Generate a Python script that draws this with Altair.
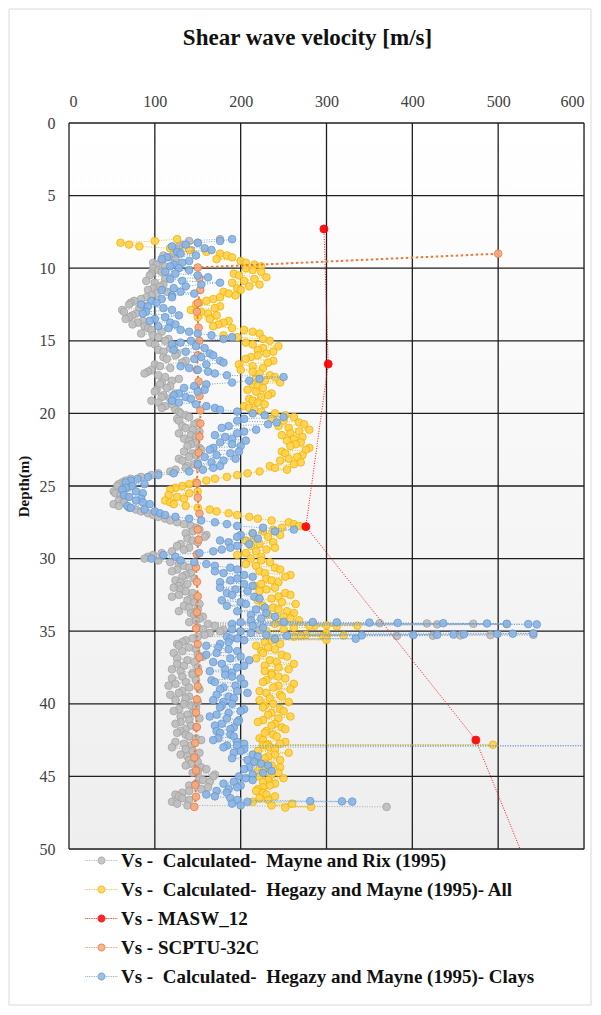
import altair as alt
import pandas as pd

# ---------------- data ----------------
SERIES = [
    "Vs -\u00a0 Calculated-\u00a0 Mayne and Rix (1995)",
    "Vs -\u00a0 Calculated-\u00a0 Hegazy and Mayne (1995)- All",
    "Vs - MASW_12",
    "Vs - SCPTU-32C",
    "Vs -\u00a0 Calculated-\u00a0 Hegazy and Mayne (1995)- Clays",
]
FILLS = ["#BEBEBE", "#FFD24D", "#FF0000", "#F5A982", "#8DB5E3"]
STROKES = ["#A3A3A3", "#F0B400", "#FF0000", "#E57B3C", "#6598D0"]

X_TICKS = [0, 100, 200, 300, 400, 500, 600]
Y_TICKS = [0, 5, 10, 15, 20, 25, 30, 35, 40, 45, 50]

# CPT depth grid (m)
cpt_depth = [
    8.0, 8.25, 8.5, 8.75, 9.0, 9.25, 9.5, 9.75,
    10.0, 10.25, 10.5, 10.75, 11.0, 11.25, 11.5, 11.75,
    12.0, 12.25, 12.5, 12.75, 13.0, 13.25, 13.5, 13.75,
    14.0, 14.25, 14.5, 14.75, 15.0, 15.25, 15.5, 15.75,
    16.0, 16.25, 16.5, 16.75, 17.0, 17.25, 17.5, 17.75,
    18.0, 18.25, 18.5, 18.75, 19.0, 19.25, 19.5, 19.75,
    20.0, 20.25, 20.5, 20.75, 21.0, 21.25, 21.5, 21.75,
    22.0, 22.25, 22.5, 22.75, 23.0, 23.25, 23.5, 23.75,
    24.0, 24.25, 24.5, 24.75, 25.0, 25.25, 25.5, 25.75,
    26.0, 26.25, 26.5, 26.75, 27.0, 27.25, 27.5, 27.75,
    28.0, 28.25, 28.5, 28.75, 29.0, 29.25, 29.5, 29.75,
    30.0, 30.25, 30.5, 30.75, 31.0, 31.25, 31.5, 31.75,
    32.0, 32.25, 32.5, 32.75, 33.0, 33.25, 33.5, 33.75,
    34.0, 34.25, 34.5, 34.75, 35.0, 35.25, 35.5, 35.75,
    36.0, 36.25, 36.5, 36.75, 37.0, 37.25, 37.5, 37.75,
    38.0, 38.25, 38.5, 38.75, 39.0, 39.25, 39.5, 39.75,
    40.0, 40.25, 40.5, 40.75, 41.0, 41.25, 41.5, 41.75,
    42.0, 42.25, 42.5, 42.75, 43.0, 43.25, 43.5, 43.75,
    44.0, 44.25, 44.5, 44.75, 45.0, 45.25, 45.5, 45.75,
    46.0, 46.25, 46.5, 46.75, 47.0,
]
cpt_depth_mid = [
    8.125, 8.375, 8.625, 8.875, 9.125, 9.375, 9.625, 9.875,
    10.125, 10.375, 10.625, 10.875, 11.125, 11.375, 11.625, 11.875,
    12.125, 12.375, 12.625, 12.875, 13.125, 13.375, 13.625, 13.875,
    14.125, 14.375, 14.625, 14.875, 15.125, 15.375, 15.625, 15.875,
    16.125, 16.375, 16.625, 16.875, 17.125, 17.375, 17.625, 17.875,
    18.125, 18.375, 18.625, 18.875, 19.125, 19.375, 19.625, 19.875,
    20.125, 20.375, 20.625, 20.875, 21.125, 21.375, 21.625, 21.875,
    22.125, 22.375, 22.625, 22.875, 23.125, 23.375, 23.625, 23.875,
    24.125, 24.375, 24.625, 24.875, 25.125, 25.375, 25.625, 25.875,
    26.125, 26.375, 26.625, 26.875, 27.125, 27.375, 27.625, 27.875,
    28.125, 28.375, 28.625, 28.875, 29.125, 29.375, 29.625, 29.875,
    30.125, 30.375, 30.625, 30.875, 31.125, 31.375, 31.625, 31.875,
    32.125, 32.375, 32.625, 32.875, 33.125, 33.375, 33.625, 33.875,
    34.125, 34.375, 34.625, 34.875, 35.125, 35.375, 35.625, 35.875,
    36.125, 36.375, 36.625, 36.875, 37.125, 37.375, 37.625, 37.875,
    38.125, 38.375, 38.625, 38.875, 39.125, 39.375, 39.625, 39.875,
    40.125, 40.375, 40.625, 40.875, 41.125, 41.375, 41.625, 41.875,
    42.125, 42.375, 42.625, 42.875, 43.125, 43.375, 43.625, 43.875,
    44.125, 44.375, 44.625, 44.875, 45.125, 45.375, 45.625, 45.875,
    46.125, 46.375, 46.625, 46.875,
]

# Vs - Calculated - Mayne and Rix (1995)
mayne_rix_vs = [
    176, 150, 128, 142, 122, 116, 108, 102,
    98, 108, 94, 112, 100, 106, 92, 102,
    90, 76, 70, 82, 64, 74, 66, 80,
    88, 96, 84, 104, 112, 100, 118, 110,
    124, 114, 132, 106, 96, 88, 112, 120,
    106, 114, 100, 110, 118, 104, 112, 124,
    130, 140, 128, 146, 136, 152, 142, 134,
    148, 138, 154, 144, 140, 132, 146, 136,
    118, 96, 72, 62, 56, 62, 54, 66,
    58, 52, 70, 84, 98, 112, 126, 142,
    152, 136, 158, 144, 130, 140, 120, 98,
    88, 118, 134, 126, 142, 132, 124, 138,
    122, 136, 128, 142, 146, 134, 150, 142,
    156, 148, 162, 150, 176, 158, 144, 132,
    128, 148, 122, 156, 138, 126, 150, 130,
    144, 120, 136, 116, 152, 128, 140, 124,
    134, 148, 122, 138, 152, 130, 142, 136,
    126, 140, 154, 134, 120, 144, 130, 148,
    150, 136, 160, 144, 168, 156, 148, 162,
    140, 124, 132, 120, 138,
]
mayne_rix_mid_vs = [
    140, 132, 118, 128, 110, 124, 98, 112,
    104, 96, 116, 90, 110, 98, 114, 96,
    84, 72, 88, 62, 78, 70, 86, 74,
    92, 108, 98, 116, 94, 122, 104, 126,
    110, 136, 100, 118, 92, 104, 128, 108,
    118, 102, 124, 108, 96, 120, 108, 128,
    136, 126, 150, 132, 144, 128, 148, 140,
    142, 152, 134, 148, 128, 150, 138, 124,
    104, 84, 66, 58, 68, 52, 60, 62,
    64, 58, 78, 92, 104, 118, 134, 148,
    144, 160, 138, 150, 126, 134, 108, 92,
    104, 128, 140, 120, 136, 146, 130, 128,
    130, 144, 120, 138, 152, 140, 128, 146,
    152, 140, 170, 156, 164, 150, 136, 126,
    140, 132, 150, 126, 146, 134, 120, 144,
    132, 148, 124, 140, 132, 118, 136, 150,
    142, 128, 144, 130, 140, 124, 148, 130,
    136, 148, 124, 142, 136, 152, 138, 140,
    142, 154, 150, 170, 152, 164, 140, 154,
    132, 128, 140, 126,
]
mayne_rix_extra_depth = [34.45, 34.47, 34.49, 34.51, 34.53, 34.9, 34.92,
                         35.25, 35.27, 35.29, 35.31, 35.33, 35.35, 47.1]
mayne_rix_extra_vs = [362, 417, 471, 510, 429, 180, 222,
                      541, 491, 456, 424, 382, 300, 370]

# Vs - Calculated - Hegazy and Mayne (1995) - All
hegazy_all_vs = [
    126, 60, 82, 140, 176, 190, 200, 216,
    206, 224, 198, 216, 190, 210, 200, 186,
    176, 160, 148, 170, 154, 172, 164, 180,
    168, 204, 222, 196, 234, 214, 226, 238,
    220, 206, 232, 214, 200, 222, 240, 228,
    214, 226, 218, 232, 210, 220, 204, 216,
    240, 262, 250, 274, 256, 268, 248, 262,
    270, 258, 276, 252, 266, 246, 262, 240,
    222, 196, 170, 148, 132, 118, 140, 126,
    112, 122, 150, 172, 196, 220, 256, 268,
    238, 214, 232, 206, 222, 240, 218, 196,
    212, 234, 218, 246, 228, 252, 236, 224,
    240, 222, 258, 236, 248, 226, 244, 262,
    250, 268, 240, 262, 230, 276, 240, 228,
    218, 240, 226, 254, 234, 262, 244, 228,
    236, 252, 226, 244, 258, 230, 248, 222,
    238, 226, 250, 232, 244, 220, 236, 252,
    228, 242, 226, 246, 234, 220, 240, 228,
    218, 236, 228, 244, 222, 232, 240, 226,
    218, 230, 222, 214, 236,
]
hegazy_all_mid_vs = [
    100, 70, 118, 160, 184, 172, 206, 224,
    214, 192, 230, 204, 222, 196, 180, 194,
    168, 152, 176, 142, 162, 150, 186, 174,
    190, 214, 180, 226, 206, 244, 220, 230,
    212, 238, 198, 226, 214, 234, 218, 246,
    220, 208, 236, 224, 214, 228, 210, 224,
    252, 236, 268, 244, 280, 258, 272, 254,
    264, 280, 248, 272, 256, 270, 234, 254,
    208, 184, 160, 140, 124, 150, 116, 134,
    118, 136, 164, 186, 210, 236, 262, 248,
    226, 246, 216, 238, 212, 230, 206, 224,
    224, 206, 240, 222, 258, 230, 244, 216,
    230, 252, 244, 220, 264, 238, 254, 232,
    258, 244, 286, 250, 300, 262, 236, 246,
    232, 224, 248, 218, 242, 228, 256, 236,
    244, 230, 262, 238, 222, 246, 234, 256,
    228, 246, 236, 258, 226, 240, 248, 230,
    238, 222, 252, 230, 240, 256, 232, 246,
    228, 246, 220, 236, 250, 226, 234, 220,
    226, 240, 232, 260,
]
hegazy_all_extra_depth = [34.6, 34.62, 34.64, 34.66, 35.3, 35.32, 35.34, 35.6,
                          42.8, 42.82, 42.84, 47.1, 47.15]
hegazy_all_extra_vs = [300, 336, 280, 312, 320, 270, 296, 300,
                       232, 494, 226, 282, 252]

# Vs - Calculated - Hegazy and Mayne (1995) - Clays
hegazy_clay_vs = [
    190, 150, 120, 166, 130, 114, 140, 122,
    128, 112, 150, 118, 176, 136, 108, 146,
    120, 96, 84, 110, 90, 128, 100, 118,
    104, 130, 150, 190, 142, 120, 158, 136,
    168, 146, 180, 130, 150, 170, 250, 210,
    160, 134, 150, 122, 142, 128, 160, 176,
    214, 250, 196, 232, 178, 204, 170, 190,
    176, 200, 164, 188, 158, 180, 150, 168,
    140, 104, 80, 66, 74, 62, 86, 70,
    78, 94, 72, 100, 112, 140, 170, 196,
    262, 214, 196, 176, 210, 188, 168, 110,
    96, 146, 170, 196, 180, 214, 188, 204,
    176, 208, 190, 222, 200, 184, 218, 230,
    240, 212, 190, 226, 200, 230, 196, 186,
    160, 186, 172, 200, 210, 178, 196, 164,
    182, 200, 170, 194, 176, 208, 186, 168,
    190, 176, 200, 172, 184, 196, 170, 188,
    176, 192, 168, 204, 180, 200, 214, 190,
    216, 232, 204, 226, 198, 214, 180, 196,
    172, 160, 188, 208, 200,
]
hegazy_clay_mid_vs = [
    176, 136, 158, 126, 148, 108, 132, 118,
    140, 124, 162, 132, 154, 122, 130, 120,
    108, 102, 92, 120, 86, 112, 94, 124,
    116, 140, 166, 180, 130, 148, 122, 164,
    154, 176, 160, 140, 162, 184, 222, 190,
    146, 158, 128, 136, 120, 148, 170, 196,
    228, 204, 242, 186, 218, 196, 182, 206,
    190, 168, 198, 172, 194, 166, 176, 156,
    122, 92, 72, 88, 66, 78, 64, 84,
    86, 68, 88, 106, 124, 154, 184, 226,
    240, 200, 220, 186, 196, 178, 152, 124,
    130, 160, 188, 170, 204, 196, 176, 214,
    194, 184, 216, 178, 206, 228, 196, 212,
    224, 200, 214, 190, 212, 184, 204, 176,
    174, 196, 160, 188, 168, 204, 182, 190,
    190, 166, 204, 180, 196, 172, 192, 180,
    178, 204, 186, 164, 198, 178, 192, 172,
    188, 174, 196, 184, 204, 192, 220, 208,
    224, 210, 236, 214, 206, 192, 200, 186,
    184, 170, 196, 190,
]
hegazy_clay_extra_depth = [34.35, 34.37, 34.39, 34.41, 34.43, 34.45, 34.47, 34.49, 34.51, 34.53,
                           35.15, 35.17, 35.19, 35.21, 35.23, 35.25, 35.27, 35.29, 35.31,
                           35.5, 35.52, 35.54, 42.86, 42.88, 46.7, 46.72, 46.74]
hegazy_clay_extra_vs = [250, 284, 312, 350, 383, 436, 487, 510, 535, 545,
                        541, 517, 499, 460, 448, 429, 401, 341, 254,
                        188, 334, 240, 196, 650, 281, 318, 330]

# Vs - MASW_12
masw_depth = [7.3, 16.6, 27.8, 42.5, 55.0]
masw_vs = [297, 302, 276, 474, 560]

# Vs - SCPTU-32C
scptu_depth = [9.0, 9.95, 10.7, 11.5, 12.4, 13.0, 14.1, 15.0, 16.0, 17.0,
               17.8, 18.8, 19.8, 20.7, 21.6, 22.7, 23.6, 24.8, 25.8, 26.9,
               28.0, 28.7, 29.7, 30.6, 31.6, 32.6, 33.7, 34.8, 35.9, 36.8,
               37.8, 38.8, 39.7, 40.6, 41.6, 42.7, 43.7, 44.6, 45.6, 46.4, 47.1]
scptu_vs = [500, 150, 152, 153, 150, 149, 151, 152, 150, 149,
            151, 152, 153, 153, 152, 151, 150, 149, 150, 152,
            150, 151, 149, 148, 149, 150, 149, 148, 150, 152,
            151, 150, 149, 148, 149, 147, 146, 148, 147, 148, 146]


# ---------------- build table ----------------
def series_frame(name, depths, values):
    d = pd.DataFrame({"depth": depths, "vs": values})
    d = d.sort_values("depth", kind="stable").reset_index(drop=True)
    d["idx"] = range(len(d))
    d["series"] = name
    return d


frames = [
    series_frame(SERIES[0], cpt_depth + cpt_depth_mid + mayne_rix_extra_depth,
                 mayne_rix_vs + mayne_rix_mid_vs + mayne_rix_extra_vs),
    series_frame(SERIES[1], cpt_depth + cpt_depth_mid + hegazy_all_extra_depth,
                 hegazy_all_vs + hegazy_all_mid_vs + hegazy_all_extra_vs),
    series_frame(SERIES[2], masw_depth, masw_vs),
    series_frame(SERIES[3], scptu_depth, scptu_vs),
    series_frame(SERIES[4], cpt_depth + cpt_depth_mid + hegazy_clay_extra_depth,
                 hegazy_clay_vs + hegazy_clay_mid_vs + hegazy_clay_extra_vs),
]
df = pd.concat(frames, ignore_index=True)

W, H = 515, 726
SERIF = "Liberation Serif"
GRID = "#1E1E1E"


def legend_symbol():
    parts = []
    x = -4.6
    while x < -1.25:
        parts.append(f"M{x:.2f},0L{x + 0.22:.2f},0")
        x += 0.5
    x = 1.3
    while x < 4.6:
        parts.append(f"M{x:.2f},0L{x + 0.22:.2f},0")
        x += 0.5
    parts.append("M-1,0A1,1 0 1,0 1,0A1,1 0 1,0 -1,0Z")
    return "".join(parts)


legend = alt.Legend(
    title=None,
    orient="none",
    legendX=23,
    legendY=728,
    direction="vertical",
    symbolType=legend_symbol(),
    symbolSize=49,
    symbolStrokeWidth=1,
    labelFont=SERIF,
    labelFontSize=19,
    labelFontWeight="bold",
    labelColor="#111111",
    labelLimit=600,
    labelOffset=10,
    rowPadding=9,
    padding=0,
)

xs = alt.Scale(domain=[0, 600], nice=False)
ys = alt.Scale(domain=[0, 50], reverse=True, nice=False)
fill_scale = alt.Scale(domain=SERIES, range=FILLS)
stroke_scale = alt.Scale(domain=SERIES, range=STROKES)

x_enc = alt.X(
    "vs:Q", scale=xs,
    axis=alt.Axis(orient="top", values=X_TICKS, ticks=False, domain=False, grid=False,
                  labelPadding=14, labelFont=SERIF, labelFontSize=16, labelColor="#404040",
                  title="Shear wave velocity [m/s]", titleFont=SERIF, titleFontSize=23,
                  titleFontWeight="bold", titleColor="#111111",
                  titleX=238, titleY=-86, titleAlign="center", titleBaseline="middle"),
)
y_enc = alt.Y(
    "depth:Q", scale=ys,
    axis=alt.Axis(values=Y_TICKS, title="Depth(m)", ticks=False, domain=False, grid=False,
                  labelPadding=14, labelFont=SERIF, labelFontSize=16, labelColor="#404040",
                  titleFont=SERIF, titleFontSize=15, titleFontWeight="bold",
                  titleColor="#111111", titlePadding=8),
)

bg = alt.Chart(pd.DataFrame({"k": [0]})).mark_rect(
    color=alt.Gradient(
        gradient="linear",
        stops=[alt.GradientStop(color="#FFFFFF", offset=0),
               alt.GradientStop(color="#EEEEEE", offset=1)],
        x1=0, x2=0, y1=0, y2=1,
    )
).encode(x=alt.value(0), x2=alt.value(W), y=alt.value(0), y2=alt.value(H))

frame = alt.Chart(pd.DataFrame({"k": [0]})).mark_rect(
    fillOpacity=0, stroke="#D9D9D9", strokeWidth=1
).encode(x=alt.value(-60), x2=alt.value(W + 7), y=alt.value(-114), y2=alt.value(H + 156))

vgrid = alt.Chart(pd.DataFrame({"vs": X_TICKS})).mark_rule(
    color=GRID, strokeWidth=1.3
).encode(x=alt.X("vs:Q", scale=xs))
hgrid = alt.Chart(pd.DataFrame({"depth": Y_TICKS})).mark_rule(
    color=GRID, strokeWidth=1.3
).encode(y=alt.Y("depth:Q", scale=ys))

layers = [bg, frame, vgrid, hgrid]
for i, s in enumerate(SERIES):
    base = alt.Chart(df).transform_filter(alt.FieldEqualPredicate(field="series", equal=s))
    if i == 3:
        line = base.mark_line(strokeWidth=2, strokeDash=[2.5, 2.5], clip=True)
    else:
        line = base.mark_line(strokeWidth=0.9, strokeDash=[1, 1.5], clip=True)
    line = line.encode(
        x=x_enc, y=y_enc, order=alt.Order("idx:Q"),
        stroke=alt.Stroke("series:N", scale=stroke_scale, legend=legend),
    )
    size = 64 if i == 2 else 58
    pts = base.mark_point(shape="circle", filled=True, size=size, strokeWidth=0.9,
                          opacity=0.92, clip=True).encode(
        x=x_enc, y=y_enc,
        fill=alt.Fill("series:N", scale=fill_scale, legend=legend),
        stroke=alt.Stroke("series:N", scale=stroke_scale, legend=legend),
    )
    layers += [line, pts]

chart = alt.layer(*layers).properties(
    width=W,
    height=H,
    autosize=alt.AutoSizeParams(type="none"),
    padding={"left": 61, "top": 115, "right": 9, "bottom": 157},
).configure_view(
    stroke=GRID, strokeWidth=1.5,
).configure(background="white")

chart.save("out.html", embed_options={"renderer": "svg", "actions": False})
